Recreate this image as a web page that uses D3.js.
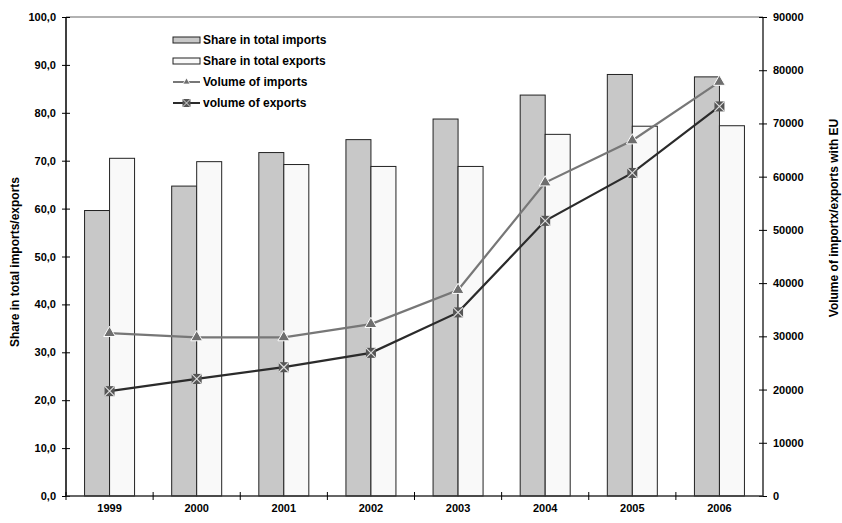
<!DOCTYPE html>
<html>
<head>
<meta charset="utf-8">
<script src="https://cdn.jsdelivr.net/npm/d3@7"></script>
<style>
  html, body { margin: 0; padding: 0; background: #fff; overflow: hidden; }
  svg { display: block; }
  text { font-family: "Liberation Sans", Arial, sans-serif; }
</style>
</head>
<body>
<svg id="chart"></svg>
<script>
const width = 842;
const height = 523;

// Data
const years = ["1999", "2000", "2001", "2002", "2003", "2004", "2005", "2006"];
const shareImports = [59.6, 64.7, 71.7, 74.4, 78.7, 83.7, 88.0, 87.5];
const shareExports = [70.5, 69.8, 69.2, 68.8, 68.8, 75.5, 77.2, 77.3];
const volumeImports = [30600, 29800, 29800, 32300, 38700, 58900, 66800, 77800];
const volumeExports = [19700, 22000, 24200, 26900, 34500, 51700, 60700, 73200];
const leftTicks = [0, 10, 20, 30, 40, 50, 60, 70, 80, 90, 100];
const rightTicks = [0, 10000, 20000, 30000, 40000, 50000, 60000, 70000, 80000, 90000];

const margin = { top: 17, right: 79, bottom: 27, left: 66 };
const innerWidth = width - margin.left - margin.right;
const innerHeight = height - margin.top - margin.bottom;

const svg = d3.select("#chart")
  .attr("width", width)
  .attr("height", height);

const g = svg.append("g")
  .attr("transform", `translate(${margin.left},${margin.top})`);

// Scales
const xScale = d3.scaleBand()
  .domain(years)
  .range([0, innerWidth]);

const yLeft = d3.scaleLinear().domain([0, 100]).range([innerHeight, 0]);
const yRight = d3.scaleLinear().domain([0, 90000]).range([innerHeight, 0]);

const barW = 25;

// top border of plot area
g.append("line")
  .attr("x1", 0).attr("x2", innerWidth)
  .attr("y1", 0).attr("y2", 0)
  .attr("stroke", "#999")
  .attr("stroke-width", 1.5);

// Bars
g.selectAll(".bar-imp")
  .data(shareImports)
  .enter()
  .append("rect")
  .attr("class", "bar-imp")
  .attr("x", (d, i) => xScale(years[i]) + xScale.bandwidth() / 2 - barW)
  .attr("y", d => yLeft(d))
  .attr("width", barW)
  .attr("height", d => innerHeight - yLeft(d))
  .attr("fill", "#c8c8c8")
  .attr("stroke", "#222")
  .attr("stroke-width", 1);

g.selectAll(".bar-exp")
  .data(shareExports)
  .enter()
  .append("rect")
  .attr("class", "bar-exp")
  .attr("x", (d, i) => xScale(years[i]) + xScale.bandwidth() / 2)
  .attr("y", d => yLeft(d))
  .attr("width", barW)
  .attr("height", d => innerHeight - yLeft(d))
  .attr("fill", "#f9f9f9")
  .attr("stroke", "#222")
  .attr("stroke-width", 1);

// Left axis
const leftAxisG = g.append("g")
  .call(d3.axisLeft(yLeft).tickValues(leftTicks).tickSize(4).tickPadding(6)
    .tickFormat(d => d3.format(".1f")(d).replace(".", ",")));
leftAxisG.selectAll(".tick line").attr("x2", 4).attr("x1", -4).attr("stroke", "#000");
leftAxisG.select(".domain").attr("stroke", "#000").attr("stroke-width", 1.5).attr("d", `M0,0V${innerHeight}`);
leftAxisG.selectAll("text")
  .style("font-size", "11px").style("font-weight", "bold").attr("fill", "#000");

// Right axis
const rightAxisG = g.append("g")
  .attr("transform", `translate(${innerWidth},0)`)
  .call(d3.axisRight(yRight).tickValues(rightTicks).tickSize(4).tickPadding(6)
    .tickFormat(d3.format("d")));
rightAxisG.selectAll(".tick line").attr("x1", -4).attr("x2", 4).attr("stroke", "#000");
rightAxisG.select(".domain").attr("stroke", "#333").attr("stroke-width", 1.5).attr("d", `M0,0V${innerHeight}`);
rightAxisG.selectAll("text")
  .style("font-size", "11px").style("font-weight", "bold").attr("fill", "#000");

// X axis
const xAxisG = g.append("g")
  .attr("transform", `translate(0,${innerHeight})`)
  .call(d3.axisBottom(xScale).tickSize(0).tickPadding(8));
xAxisG.select(".domain").attr("stroke", "#333").attr("stroke-width", 1.5).attr("d", `M0,0H${innerWidth}`);
xAxisG.selectAll("text")
  .style("font-size", "11px").style("font-weight", "bold").attr("fill", "#000");

// category boundary ticks
xAxisG.selectAll(".bound")
  .data(years)
  .enter()
  .append("line")
  .attr("class", "bound")
  .attr("x1", d => xScale(d))
  .attr("x2", d => xScale(d))
  .attr("y1", -4)
  .attr("y2", 4)
  .attr("stroke", "#000");

// Axis titles
svg.append("text")
  .attr("transform", "translate(19,262) rotate(-90)")
  .attr("text-anchor", "middle")
  .style("font-size", "12px")
  .style("font-weight", "bold")
  .text("Share in total imports/exports");

svg.append("text")
  .attr("transform", "translate(838,218) rotate(-90)")
  .attr("text-anchor", "middle")
  .style("font-size", "12px")
  .style("font-weight", "bold")
  .text("Volume of importx/exports with EU");

// Lines
const cx = (d, i) => xScale(years[i]) + xScale.bandwidth() / 2;

const lineGen = d3.line()
  .x((d, i) => cx(d, i))
  .y(d => yRight(d));

g.append("path")
  .datum(volumeImports)
  .attr("fill", "none")
  .attr("stroke", "#777")
  .attr("stroke-width", 2.2)
  .attr("d", lineGen);

g.append("path")
  .datum(volumeExports)
  .attr("fill", "none")
  .attr("stroke", "#2b2b2b")
  .attr("stroke-width", 2.2)
  .attr("d", lineGen);

const triangle = d3.symbol().type(d3.symbolTriangle).size(60);

g.selectAll(".m-imp")
  .data(volumeImports)
  .enter()
  .append("path")
  .attr("class", "m-imp")
  .attr("d", triangle)
  .attr("transform", (d, i) => `translate(${cx(d, i)},${yRight(d)})`)
  .attr("fill", "#6e6e6e")
  .attr("stroke", "#fff")
  .attr("stroke-width", 1);

const expMarkers = g.selectAll(".m-exp")
  .data(volumeExports)
  .enter()
  .append("g")
  .attr("class", "m-exp")
  .attr("transform", (d, i) => `translate(${cx(d, i)},${yRight(d)})`);

expMarkers.append("rect")
  .attr("x", -5).attr("y", -5)
  .attr("width", 10).attr("height", 10)
  .attr("fill", "#555");
expMarkers.append("path")
  .attr("d", "M-5,-5L5,5M-5,5L5,-5")
  .attr("stroke", "#ddd")
  .attr("stroke-width", 1.2);

// Legend
const legend = svg.append("g")
  .attr("transform", "translate(173,40)");

const legendItems = ["Share in total imports", "Share in total exports", "Volume of imports", "volume of exports"];
const rowH = 21;

legendItems.forEach((label, i) => {
  const row = legend.append("g").attr("transform", `translate(0,${i * rowH})`);
  if (i === 0 || i === 1) {
    row.append("rect")
      .attr("x", 0).attr("y", -3)
      .attr("width", 27).attr("height", 6)
      .attr("fill", i === 0 ? "#c8c8c8" : "#f9f9f9")
      .attr("stroke", "#222");
  } else if (i === 2) {
    row.append("line").attr("x1", 0).attr("x2", 27).attr("y1", 0).attr("y2", 0)
      .attr("stroke", "#777").attr("stroke-width", 2);
    row.append("path").attr("d", d3.symbol().type(d3.symbolTriangle).size(22))
      .attr("transform", "translate(13.5,0)")
      .attr("fill", "#6e6e6e").attr("stroke", "#fff").attr("stroke-width", 0.8);
  } else {
    row.append("line").attr("x1", 0).attr("x2", 27).attr("y1", 0).attr("y2", 0)
      .attr("stroke", "#2b2b2b").attr("stroke-width", 2);
    row.append("rect").attr("x", 9.5).attr("y", -4).attr("width", 8).attr("height", 8).attr("fill", "#555");
    row.append("path").attr("d", "M9.5,-4L17.5,4M9.5,4L17.5,-4").attr("stroke", "#ddd").attr("stroke-width", 1);
  }
  row.append("text")
    .attr("x", 30)
    .attr("y", 4)
    .style("font-size", "12px")
    .style("font-weight", "bold")
    .text(label);
});
</script>
</body>
</html>
